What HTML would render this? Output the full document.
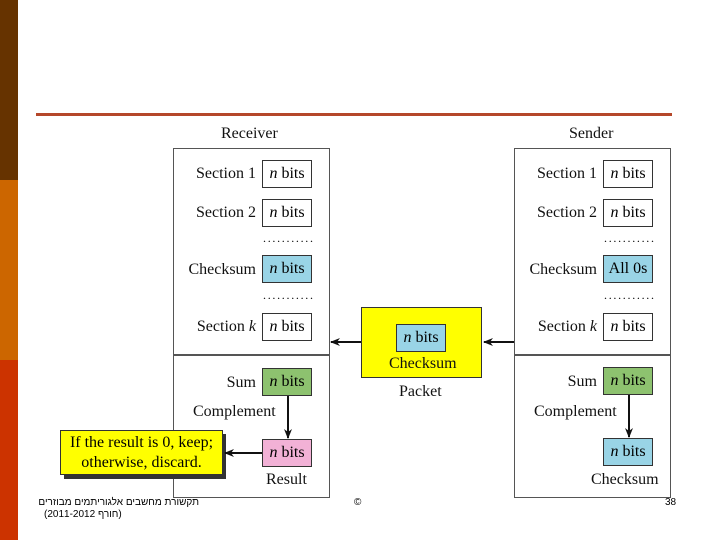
<!DOCTYPE html>
<html><head><meta charset="utf-8"><style>
body{margin:0;width:720px;height:540px;position:relative;background:#fff;overflow:hidden;font-family:"Liberation Serif",serif;}
.a{position:absolute}
.t{position:absolute;font-size:16px;color:#111;white-space:nowrap;line-height:1}
.r{text-align:right;width:90px}
.b{position:absolute;border:1.5px solid #333;box-sizing:border-box;font-size:16px;text-align:center;line-height:25px}
.b i{font-style:italic}
.dots{position:absolute;font-size:12px;letter-spacing:1.7px;line-height:1}
</style></head><body>
<div class="a" style="left:0;top:0;width:18px;height:180px;background:#663300"></div>
<div class="a" style="left:0;top:180px;width:18px;height:180px;background:#cc6600"></div>
<div class="a" style="left:0;top:360px;width:18px;height:180px;background:#cc3300"></div>
<div class="a" style="left:36px;top:113px;width:636px;height:3px;background:#b5472a"></div>

<div class="t" style="left:221px;top:126px">Receiver</div>
<div class="t" style="left:569px;top:126px">Sender</div>

<!-- receiver -->
<div class="a" style="left:173px;top:148px;width:157px;height:350px;border:1.5px solid #555;box-sizing:border-box"></div>
<div class="a" style="left:173px;top:354px;width:157px;height:1.5px;background:#555"></div>
<div class="t r" style="left:166px;top:166px">Section 1</div>
<div class="b" style="left:262px;top:160px;width:50px;height:28px"><i>n</i> bits</div>
<div class="t r" style="left:166px;top:205px">Section 2</div>
<div class="b" style="left:262px;top:199px;width:50px;height:28px"><i>n</i> bits</div>
<div class="dots" style="left:263px;top:232px">...........</div>
<div class="t r" style="left:166px;top:262px">Checksum</div>
<div class="b" style="left:262px;top:255px;width:50px;height:28px;background:#99d4e6"><i>n</i> bits</div>
<div class="dots" style="left:263px;top:289px">...........</div>
<div class="t r" style="left:166px;top:319px">Section <i>k</i></div>
<div class="b" style="left:262px;top:313px;width:50px;height:28px"><i>n</i> bits</div>
<div class="t r" style="left:166px;top:375px">Sum</div>
<div class="b" style="left:262px;top:368px;width:50px;height:28px;background:#8dc26f"><i>n</i> bits</div>
<div class="t" style="left:193px;top:404px">Complement</div>
<div class="b" style="left:262px;top:439px;width:50px;height:28px;background:#f2b1d6"><i>n</i> bits</div>
<div class="t" style="left:266px;top:472px">Result</div>
<div class="a" style="left:64px;top:434px;width:162px;height:45px;background:#333"></div>
<div class="a" style="left:60px;top:430px;width:163px;height:45px;background:#ffff00;border:1.5px solid #333;box-sizing:border-box;font-size:16px;text-align:center;line-height:20px;padding-top:2px">If the result is 0, keep;<br>otherwise, discard.</div>

<!-- packet -->
<div class="a" style="left:361px;top:307px;width:121px;height:71px;background:#ffff00;border:1.5px solid #333;box-sizing:border-box"></div>
<div class="b" style="left:396px;top:324px;width:50px;height:28px;background:#99d4e6"><i>n</i> bits</div>
<div class="t" style="left:389px;top:356px">Checksum</div>
<div class="t" style="left:399px;top:384px">Packet</div>

<!-- sender -->
<div class="a" style="left:514px;top:148px;width:157px;height:350px;border:1.5px solid #555;box-sizing:border-box"></div>
<div class="a" style="left:514px;top:354px;width:157px;height:1.5px;background:#555"></div>
<div class="t r" style="left:507px;top:166px">Section 1</div>
<div class="b" style="left:603px;top:160px;width:50px;height:28px"><i>n</i> bits</div>
<div class="t r" style="left:507px;top:205px">Section 2</div>
<div class="b" style="left:603px;top:199px;width:50px;height:28px"><i>n</i> bits</div>
<div class="dots" style="left:604px;top:232px">...........</div>
<div class="t r" style="left:507px;top:262px">Checksum</div>
<div class="b" style="left:603px;top:255px;width:50px;height:28px;background:#99d4e6">All 0s</div>
<div class="dots" style="left:604px;top:289px">...........</div>
<div class="t r" style="left:507px;top:319px">Section <i>k</i></div>
<div class="b" style="left:603px;top:313px;width:50px;height:28px"><i>n</i> bits</div>
<div class="t r" style="left:507px;top:374px">Sum</div>
<div class="b" style="left:603px;top:367px;width:50px;height:28px;background:#8dc26f"><i>n</i> bits</div>
<div class="t" style="left:534px;top:404px">Complement</div>
<div class="b" style="left:603px;top:438px;width:50px;height:28px;background:#99d4e6"><i>n</i> bits</div>
<div class="t" style="left:591px;top:472px">Checksum</div>

<svg class="a" style="left:0;top:0" width="720" height="540">
<defs><marker id="m" markerWidth="10" markerHeight="8" refX="9" refY="4" orient="auto" markerUnits="userSpaceOnUse"><path d="M0,0 L10,4 L0,8 L3,4z" fill="#111"/></marker></defs>
<g stroke="#111" stroke-width="2" marker-end="url(#m)">
<line x1="514" y1="342" x2="484" y2="342"/>
<line x1="361" y1="342" x2="331" y2="342"/>
<line x1="288" y1="396" x2="288" y2="438"/>
<line x1="629" y1="395" x2="629" y2="437"/>
<line x1="262" y1="453" x2="225" y2="453"/>
</g></svg>

<div class="a" style="right:521px;top:497px;font-family:'Liberation Sans','DejaVu Sans',sans-serif;font-size:10px;direction:rtl;white-space:nowrap;line-height:12px">תקשורת מחשבים אלגוריתמים מבוזרים</div>
<div class="a" style="left:44px;top:509px;font-family:'Liberation Sans','DejaVu Sans',sans-serif;font-size:10px;line-height:12px;white-space:nowrap">(2011-2012 חורף)</div>
<div class="a" style="left:354px;top:497px;font-family:'Liberation Sans',sans-serif;font-size:10px">©</div>
<div class="a" style="left:665px;top:497px;font-family:'Liberation Sans',sans-serif;font-size:10px">38</div>
</body></html>
